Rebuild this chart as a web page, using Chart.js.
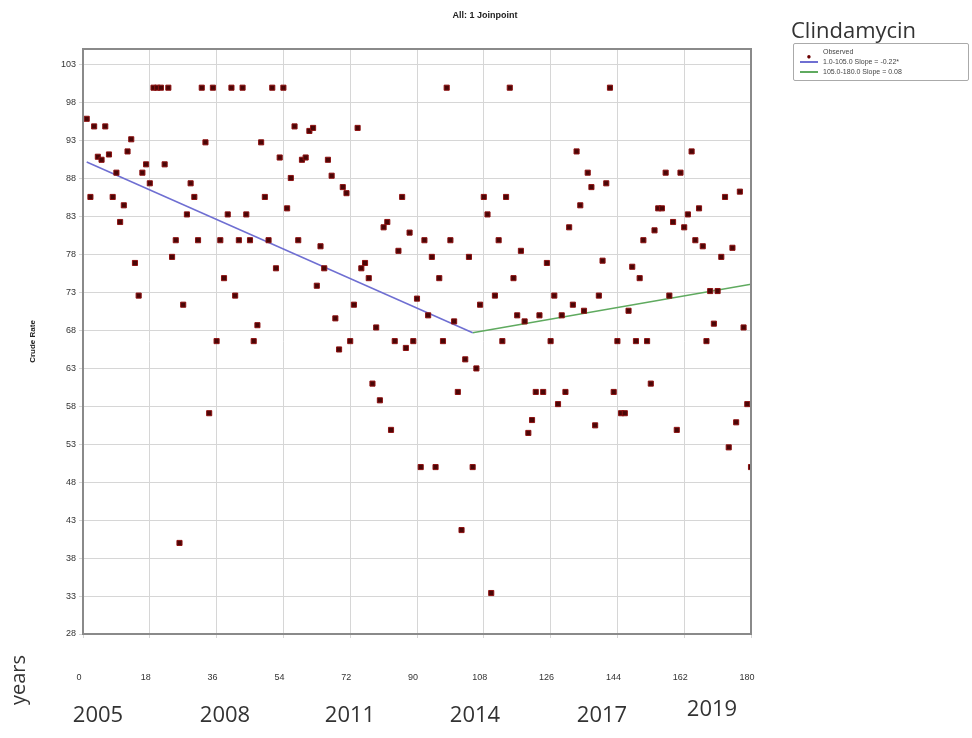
<!DOCTYPE html>
<html>
<head>
<meta charset="utf-8">
<script src="https://cdn.jsdelivr.net/npm/chart.js@4/dist/chart.umd.min.js"></script>
<style>
  body { margin: 0; background: #fff; }
  #wrap { position: relative; width: 972px; height: 738px; overflow: hidden; }
  #chart { position: absolute; left: 0; top: 0; }
  .txt { position: absolute; white-space: nowrap; color: #222; }
  #title { left: 485px; top: 10px; transform: translateX(-50%); font: bold 9px "Liberation Sans", sans-serif; }
  #drug { left: 791px; top: 14px; font: 22px "Open Sans", sans-serif; color: #333; }
  #legend { position: absolute; left: 793px; top: 43px; width: 176px; height: 38px; border: 1px solid #aaa;
            border-radius: 2px; font: 7px "Liberation Sans", sans-serif; color: #444; box-sizing: border-box; padding: 3px 0 0 6px; }
  #legend div { height: 10px; line-height: 10px; }
  #legend span.sw { display: inline-block; width: 18px; height: 0; vertical-align: middle; margin-right: 5px; }
  #years { left: 4px; top: 705px; transform: rotate(-90deg); transform-origin: left top; font: 20px "Open Sans", sans-serif; color: #333; }
  .yr { top: 698px; font: 22px "Open Sans", sans-serif; color: #333; transform: translateX(-50%); }
</style>
</head>
<body>
<div id="wrap">
  <canvas id="chart" width="972" height="738"></canvas>
  <div class="txt" id="title">All: 1 Joinpoint</div>
  <div class="txt" id="drug">Clindamycin</div>
  <div id="legend">
    <div><span class="sw" style="border:none;text-align:center;font-size:8px;color:#6b0000;">&#9679;</span>Observed</div>
    <div><span class="sw" style="border-top:2px solid #6f6fd2;"></span>1.0-105.0 Slope = -0.22*</div>
    <div><span class="sw" style="border-top:2px solid #5faa5f;"></span>105.0-180.0 Slope = 0.08</div>
  </div>
  <div class="txt" id="years">years</div>
  <div class="txt yr" style="left:98px">2005</div>
  <div class="txt yr" style="left:225px">2008</div>
  <div class="txt yr" style="left:350px">2011</div>
  <div class="txt yr" style="left:475px">2014</div>
  <div class="txt yr" style="left:602px">2017</div>
  <div class="txt yr" style="left:712px;top:692px">2019</div>
</div>
<script>
// month index 1..180 (Jan 2005 .. Dec 2019)
const months = Array.from({ length: 180 }, (_, i) => i + 1)

const crudeRate = [
  95.9, 85.6, 94.9, 90.9, 90.5, 94.9, 91.2, 85.6, 88.8, 82.3,
  84.5, 91.6, 93.2, 76.9, 72.6, 88.8, 89.9, 87.4, 100, 100,
  100, 89.9, 100, 77.7, 79.9, 40, 71.4, 83.3, 87.4, 85.6,
  79.9, 100, 92.8, 57.1, 100, 66.6, 79.9, 74.9, 83.3, 100,
  72.6, 79.9, 100, 83.3, 79.9, 66.6, 68.7, 92.8, 85.6, 79.9,
  100, 76.2, 90.8, 100, 84.1, 88.1, 94.9, 79.9, 90.5, 90.8,
  94.3, 94.7, 73.9, 79.1, 76.2, 90.5, 88.4, 69.6, 65.5, 86.9,
  86.1, 66.6, 71.4, 94.7, 76.2, 76.9, 74.9, 61.0, 68.4, 58.8,
  81.6, 82.3, 54.9, 66.6, 78.5, 85.6, 65.7, 80.9, 66.6, 72.2,
  50.0, 79.9, 70.0, 77.7, 50.0, 74.9, 66.6, 100, 79.9, 69.2,
  59.9, 41.7, 64.2, 77.7, 50.0, 63.0, 71.4, 85.6, 83.3, 33.4,
  72.6, 79.9, 66.6, 85.6, 100, 74.9, 70.0, 78.5, 69.2, 54.5,
  56.2, 59.9, 70.0, 59.9, 76.9, 66.6, 72.6, 58.3, 70.0, 59.9,
  81.6, 71.4, 91.6, 84.5, 70.6, 88.8, 86.9, 55.5, 72.6, 77.2,
  87.4, 100, 59.9, 66.6, 57.1, 57.1, 70.6, 76.4, 66.6, 74.9,
  79.9, 66.6, 61.0, 81.2, 84.1, 84.1, 88.8, 72.6, 82.3, 54.9,
  88.8, 81.6, 83.3, 91.6, 79.9, 84.1, 79.1, 66.6, 73.2, 68.9,
  73.2, 77.7, 85.6, 52.6, 78.9, 55.9, 86.3, 68.4, 58.3, 50.0,
]

// joinpoint fit segments
const seg1X = [1, 105]
const seg1Y = [90.2, 67.7]
const seg2X = [105, 180]
const seg2Y = [67.7, 74.1]

const yTicks = [28, 33, 38, 43, 48, 53, 58, 63, 68, 73, 78, 83, 88, 93, 98, 103]
const xTicks = [0, 18, 36, 54, 72, 90, 108, 126, 144, 162, 180]

const toXY = (xs, ys) => xs.map((x, i) => ({ x, y: ys[i] }))

// frame around the plot
const frame = {
  id: 'frame',
  afterDraw(chart) {
    const { ctx, chartArea: a } = chart
    ctx.save()
    ctx.strokeStyle = '#8a8a8a'
    ctx.lineWidth = 2
    ctx.strokeRect(a.left, a.top, a.right - a.left, a.bottom - a.top)
    ctx.restore()
  },
}

new Chart(document.getElementById('chart'), {
  type: 'scatter',
  data: {
    datasets: [
      {
        label: 'Observed',
        data: toXY(months, crudeRate),
        pointStyle: 'rect',
        pointRadius: 3.6,
        backgroundColor: '#4a0606',
        borderColor: '#8e1212',
        borderWidth: 1,
        order: 1,
      },
      {
        label: '1.0-105.0',
        type: 'line',
        data: toXY(seg1X, seg1Y),
        borderColor: '#6f6fd2',
        borderWidth: 1.5,
        pointRadius: 0,
        order: 2,
      },
      {
        label: '105.0-180.0',
        type: 'line',
        data: toXY(seg2X, seg2Y),
        borderColor: '#5faa5f',
        borderWidth: 1.5,
        pointRadius: 0,
        order: 2,
      },
    ],
  },
  options: {
    responsive: false,
    animation: false,
    layout: { padding: { left: 0, top: 49, right: 221, bottom: 0 } },
    plugins: {
      legend: { display: false },
      tooltip: { enabled: false },
    },
    scales: {
      x: {
        type: 'linear',
        min: 0,
        max: 180,
        afterFit: (s) => { s.height = 104 },
        afterBuildTicks: (s) => { s.ticks = xTicks.map((v) => ({ value: v })) },
        grid: { color: '#d6d6d6', tickLength: 4 },
        border: { display: false },
        ticks: {
          padding: 34,
          labelOffset: -4,
          maxRotation: 0,
          color: '#333',
          font: { family: 'Liberation Sans', size: 9 },
        },
      },
      y: {
        min: 28,
        max: 105.1,
        afterFit: (s) => { s.width = 83 },
        afterBuildTicks: (s) => { s.ticks = yTicks.map((v) => ({ value: v })) },
        grid: { color: '#d6d6d6', tickLength: 4 },
        border: { display: false },
        ticks: {
          padding: 3,
          color: '#333',
          font: { family: 'Liberation Sans', size: 9 },
        },
        title: {
          display: true,
          text: 'Crude Rate',
          color: '#222',
          padding: { top: 28 },
          font: { family: 'Liberation Sans', size: 8, weight: 'bold' },
        },
      },
    },
  },
  plugins: [frame],
})
</script>
</body>
</html>
